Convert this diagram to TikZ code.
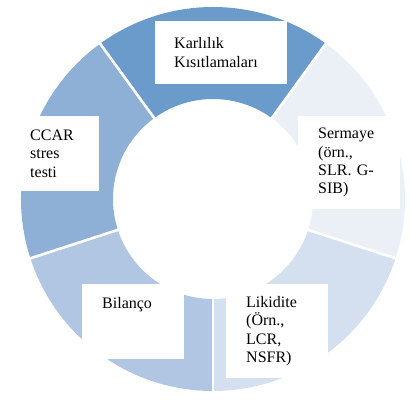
\documentclass[tikz,border=0pt]{standalone}
\usepackage{fontspec}
\setmainfont{Liberation Serif}

\definecolor{segA}{HTML}{6A9BCB}
\definecolor{segB}{HTML}{8FB0D6}
\definecolor{segC}{HTML}{B0C6E2}
\definecolor{segD}{HTML}{D4E0F0}
\definecolor{segE}{HTML}{EBF0F7}

\tikzset{
  lbl/.style={fill=white, anchor=north west, align=left, inner ysep=0pt,
    font=\fontsize{16}{18.4}\selectfont},
  gap/.style={white, line width=2.6pt}
}

\begin{document}
\begin{tikzpicture}[x=1pt,y=1pt]

\useasboundingbox (0,0) rectangle (410,401);

% Ring segments
\begin{scope}[shift={(213pt,202pt)}]
\fill[segA] (54:192pt) arc[start angle=54,end angle=126,radius=192pt] -- (126:100pt) arc[start angle=126,end angle=54,radius=100pt] -- cycle;
\fill[segB] (126:192pt) arc[start angle=126,end angle=198,radius=192pt] -- (198:100pt) arc[start angle=198,end angle=126,radius=100pt] -- cycle;
\fill[segC] (198:192pt) arc[start angle=198,end angle=270,radius=192pt] -- (270:100pt) arc[start angle=270,end angle=198,radius=100pt] -- cycle;
\fill[segD] (270:192pt) arc[start angle=270,end angle=342,radius=192pt] -- (342:100pt) arc[start angle=342,end angle=270,radius=100pt] -- cycle;
\fill[segE] (342:192pt) arc[start angle=342,end angle=414,radius=192pt] -- (414:100pt) arc[start angle=414,end angle=342,radius=100pt] -- cycle;

% White gaps between segments
\draw[gap] (54:98pt) -- (54:194pt);
\draw[gap] (126:98pt) -- (126:194pt);
\draw[gap] (198:98pt) -- (198:194pt);
\draw[gap] (270:98pt) -- (270:194pt);
\draw[gap] (342:98pt) -- (342:194pt);
\end{scope}

% Labels
\node[lbl, inner xsep=19pt, text width=94pt, minimum height=63pt] (karl) at (155,380) {Karlılık\\Kısıtlamaları};
\node[lbl, inner xsep=20pt, text width=62pt, minimum height=93pt] (serm) at (298,285) {Sermaye\\(örn.,\\SLR. G-\\SIB)};
\node[lbl, inner xsep=11pt, text width=58pt, minimum height=75pt] (ccar) at (19,285) {CCAR\\stres\\testi};
\node[lbl, inner xsep=20pt, text width=62pt, minimum height=75pt] (bil) at (82,117) {Bilanço\\~\\~};
\node[lbl, inner xsep=20pt, text width=62pt, minimum height=94pt] (lik) at (226,117) {Likidite\\(Örn.,\\LCR,\\NSFR)};

\end{tikzpicture}
\end{document}
